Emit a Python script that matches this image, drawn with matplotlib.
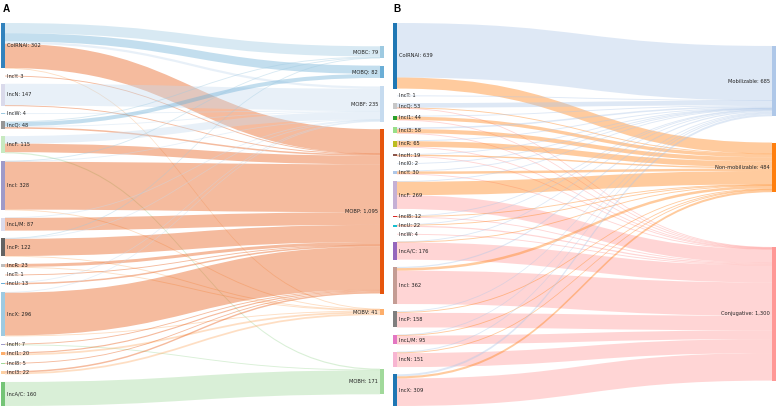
import matplotlib
matplotlib.use('Agg')
import matplotlib.pyplot as plt
from matplotlib.path import Path
from matplotlib.patches import PathPatch, Rectangle
import numpy as np

# ---------------- Panel A data ----------------
a_sources = ['ColRNAI', 'IncY', 'IncN', 'IncW', 'IncQ', 'IncF', 'IncI', 'IncL/M', 'IncP',
             'IncR', 'IncT', 'IncU', 'IncX', 'IncH', 'IncI1', 'IncI8', 'IncI3', 'IncA/C']
a_targets = ['MOBC', 'MOBQ', 'MOBF', 'MOBP', 'MOBV', 'MOBH']
#           MOBC MOBQ MOBF MOBP MOBV MOBH
a_flows = [[68, 55, 15, 162, 2, 0],     # ColRNAI
           [0, 0, 0, 3, 0, 0],          # IncY
           [0, 0, 145, 2, 0, 0],        # IncN
           [0, 0, 4, 0, 0, 0],          # IncW
           [6, 27, 5, 10, 0, 0],        # IncQ
           [0, 0, 50, 57, 0, 8],        # IncF
           [3, 0, 3, 319, 3, 0],        # IncI
           [0, 0, 2, 85, 0, 0],         # IncL/M
           [2, 0, 3, 114, 3, 0],        # IncP
           [0, 0, 0, 20, 3, 0],         # IncR
           [0, 0, 0, 1, 0, 0],          # IncT
           [0, 0, 3, 10, 0, 0],         # IncU
           [0, 0, 5, 285, 6, 0],        # IncX
           [0, 0, 0, 4, 0, 3],          # IncH
           [0, 0, 0, 8, 12, 0],         # IncI1
           [0, 0, 0, 5, 0, 0],          # IncI8
           [0, 0, 0, 10, 12, 0],        # IncI3
           [0, 0, 0, 0, 0, 160]]        # IncA/C
a_source_colors = ['#3182bd', '#e6550d', '#dadaeb', '#9ecae1', '#969696', '#c7e9c0', '#9e9ac8',
                   '#dadaeb', '#636363', '#bdbdbd', '#fdd0a2', '#6baed6', '#9ecae1', '#9e9ac8',
                   '#fdae6b', '#a1d99b', '#fdd0a2', '#74c476']
a_target_colors = ['#9ecae1', '#6baed6', '#c6dbef', '#e6550d', '#fdae6b', '#a1d99b']

# ---------------- Panel B data ----------------
b_sources = ['ColRNAI', 'IncT', 'IncQ', 'IncI1', 'IncI3', 'IncR', 'IncH', 'IncI0', 'IncY', 'IncF',
             'IncI8', 'IncU', 'IncW', 'IncA/C', 'IncI', 'IncP', 'IncL/M', 'IncN', 'IncX']
b_targets = ['Mobilizable', 'Non-mobilizable', 'Conjugative']
#          Mob  Non  Conj
b_flows = [[531, 108, 0],    # ColRNAI
           [1, 0, 0],        # IncT
           [45, 3, 5],       # IncQ
           [8, 33, 3],       # IncI1
           [15, 40, 3],      # IncI3
           [5, 55, 5],       # IncR
           [2, 14, 3],       # IncH
           [2, 0, 0],        # IncI0
           [4, 24, 2],       # IncY
           [5, 130, 134],    # IncF
           [2, 5, 5],        # IncI8
           [5, 5, 12],       # IncU
           [0, 0, 4],        # IncW
           [4, 4, 168],      # IncA/C
           [12, 25, 325],    # IncI
           [8, 8, 142],      # IncP
           [6, 4, 85],       # IncL/M
           [10, 5, 136],     # IncN
           [20, 21, 268]]    # IncX
b_source_colors = ['#1f77b4', '#dbdb8d', '#c7c7c7', '#2ca02c', '#98df8a', '#bcbd22', '#8c564b',
                   '#9edae5', '#aec7e8', '#c5b0d5', '#d62728', '#17becf', '#c49c94', '#9467bd',
                   '#c49c94', '#7f7f7f', '#e377c2', '#f7b6d2', '#1f77b4']
b_target_colors = ['#aec7e8', '#ff7f0e', '#ff9896']

FONT = 'DejaVu Sans'
FS = 3.7


def fmt(v):
    return f'{int(v):,}'


def link_positions(F, k, s_top, t_top):
    ns, nt = F.shape
    src_y, tgt_y, src_rank, src_n = {}, {}, {}, {}
    for i in range(ns):
        off = s_top[i]
        js = [j for j in sorted(range(nt), key=lambda j: t_top[j]) if F[i, j] > 0]
        for r, j in enumerate(js):
            src_y[(i, j)] = off
            src_rank[(i, j)] = r
            src_n[(i, j)] = len(js)
            off += F[i, j] * k
    for j in range(nt):
        off = t_top[j]
        for i in sorted(range(ns), key=lambda i: s_top[i]):
            if F[i, j] > 0:
                tgt_y[(i, j)] = off
                off += F[i, j] * k
    return src_y, tgt_y, src_rank, src_n


def resolve(t_top, t_h, y0, y1, pad):
    order = list(np.argsort(t_top, kind='stable'))
    m = len(order) >> 1
    yb = t_top[order[m]] - pad
    for jj in range(m - 1, -1, -1):
        i = order[jj]
        if t_top[i] + t_h[i] > yb:
            t_top[i] = yb - t_h[i]
        yb = t_top[i] - pad
    yt = t_top[order[m]] + t_h[order[m]] + pad
    for jj in range(m + 1, len(order)):
        i = order[jj]
        if t_top[i] < yt:
            t_top[i] = yt
        yt = t_top[i] + t_h[i] + pad
    yb = y1
    for jj in range(len(order) - 1, -1, -1):
        i = order[jj]
        if t_top[i] + t_h[i] > yb:
            t_top[i] = yb - t_h[i]
        yb = t_top[i] - pad
    yt = y0
    for jj in range(len(order)):
        i = order[jj]
        if t_top[i] < yt:
            t_top[i] = yt
        yt = t_top[i] + t_h[i] + pad
    return t_top


def sankey(ax, sources, targets, flows, scol, tcol, xl, xr, y0, y1, pad, mode, nw=4):
    F = np.array(flows, dtype=float)
    ts = F.sum(1)
    tt = F.sum(0)
    k = (y1 - y0 - pad * (len(sources) - 1)) / ts.sum()
    s_top = np.zeros(len(sources))
    y = y0
    for i, v in enumerate(ts):
        s_top[i] = y
        y += v * k + pad
    s_h = ts * k
    s_c = s_top + s_h / 2
    t_h = tt * k
    if mode == 'center':
        t_c = (F * s_c[:, None]).sum(0) / tt
        t_top = resolve(t_c - t_h / 2, t_h, y0, y1, pad)
    else:
        t_top = np.zeros(len(targets))
        y = y0
        for j, v in enumerate(tt):
            t_top[j] = y
            y += v * k + pad
        for _ in range(6):
            src_y, tgt_y, src_rank, src_n = link_positions(F, k, s_top, t_top)
            new = t_top.copy()
            for j in range(len(targets)):
                num = 0.0
                den = 0.0
                for (i, jj), sy in src_y.items():
                    if jj != j:
                        continue
                    yy = sy + src_rank[(i, j)] * pad - (src_n[(i, j)] - 1) * pad / 2
                    yy -= tgt_y[(i, j)] - t_top[j]
                    num += yy * F[i, j]
                    den += F[i, j]
                new[j] = num / den
            t_top = resolve(new, t_h, y0, y1, pad)

    src_y, tgt_y, _, _ = link_positions(F, k, s_top, t_top)

    x0 = xl + nw
    x1 = xr
    xm = (x0 + x1) / 2
    for (i, j), sy in src_y.items():
        ty = tgt_y[(i, j)]
        w = F[i, j] * k
        wd = max(w, 0.9)
        sc = sy + w / 2 - wd / 2
        tc = ty + w / 2 - wd / 2
        verts = [(x0, sc), (xm, sc), (xm, tc), (x1, tc), (x1, tc + wd),
                 (xm, tc + wd), (xm, sc + wd), (x0, sc + wd), (x0, sc)]
        codes = [Path.MOVETO, Path.CURVE4, Path.CURVE4, Path.CURVE4, Path.LINETO,
                 Path.CURVE4, Path.CURVE4, Path.CURVE4, Path.CLOSEPOLY]
        ax.add_patch(PathPatch(Path(verts, codes), facecolor=tcol[j], edgecolor='none',
                               alpha=0.4, zorder=1))
    for i, name in enumerate(sources):
        ax.add_patch(Rectangle((xl, s_top[i]), nw, s_h[i], facecolor=scol[i],
                               edgecolor='none', zorder=2))
        ax.text(x0 + 2, s_c[i], f'{name}: {fmt(ts[i])}', ha='left', va='center',
                fontsize=FS, family=FONT, color='#222222', zorder=3)
    for j, name in enumerate(targets):
        ax.add_patch(Rectangle((xr, t_top[j]), nw, t_h[j], facecolor=tcol[j],
                               edgecolor='none', zorder=2))
        ax.text(xr - 2, t_top[j] + t_h[j] / 2, f'{name}: {fmt(tt[j])}', ha='right',
                va='center', fontsize=FS, family=FONT, color='#222222', zorder=3)


fig = plt.figure(figsize=(7.77, 4.07), dpi=100)
ax = fig.add_axes([0, 0, 1, 1])
ax.set_xlim(0, 777)
ax.set_ylim(407, 0)
ax.axis('off')

sankey(ax, a_sources, a_targets, a_flows, a_source_colors, a_target_colors,
       1, 380, 23, 406, 7.5, 'center')
sankey(ax, b_sources, b_targets, b_flows, b_source_colors, b_target_colors,
       393, 772, 23, 406, 7.2, 'links')

ax.text(2.5, 3.5, 'A', ha='left', va='top', fontsize=7.2, fontweight='bold',
        family='Liberation Sans')
ax.text(393.5, 3.5, 'B', ha='left', va='top', fontsize=7.2, fontweight='bold',
        family='Liberation Sans')

fig.savefig('out.png', dpi=100)
